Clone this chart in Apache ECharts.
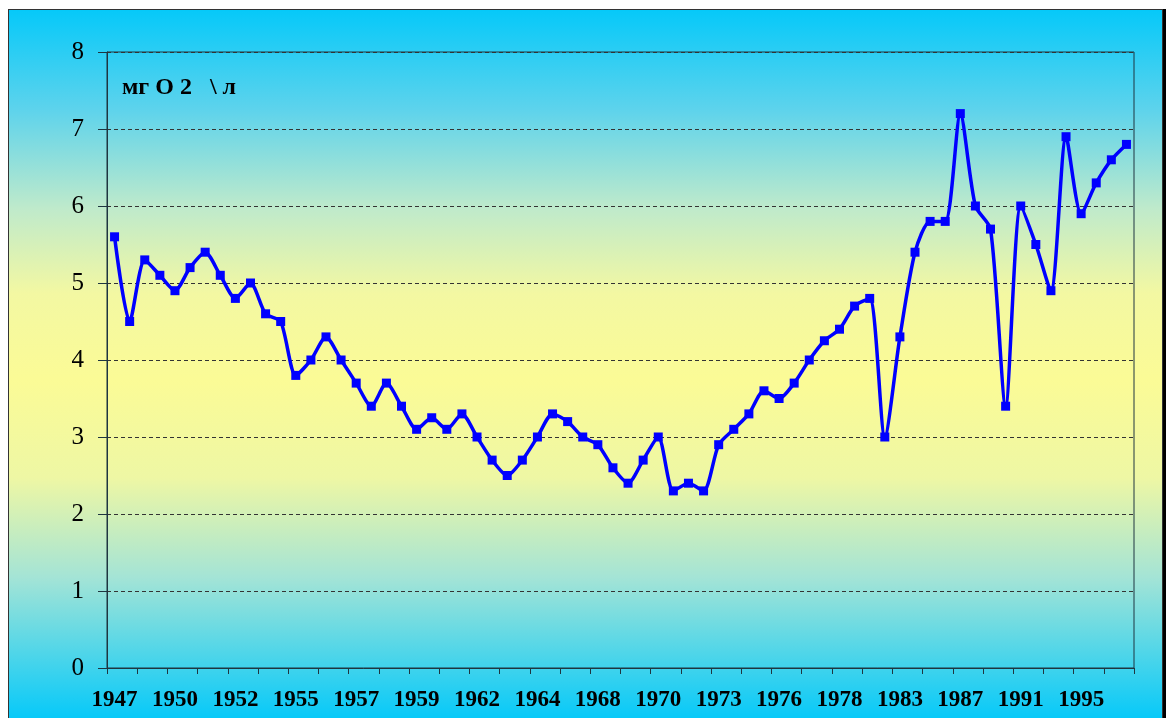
<!DOCTYPE html>
<html>
<head>
<meta charset="utf-8">
<script src="https://cdn.jsdelivr.net/npm/echarts@6/dist/echarts.min.js"></script>
<style>
  html, body { margin: 0; padding: 0; background: #fff; }
  #chart {
    position: absolute;
    left: 8px;
    top: 9px;
    width: 1153px;
    height: 709px;
    border: 1px solid #333;
    box-shadow: 3px 0 0 #000;
  }
</style>
</head>
<body>
<div id="chart"></div>
<script>
// labels shown every 4th measurement
const tickLabels = ['1947', '1950', '1952', '1955', '1957', '1959', '1962', '1964', '1968',
  '1970', '1973', '1976', '1978', '1983', '1987', '1991', '1995'];

// dissolved oxygen, mg O2 / l
const oxygen = [5.6, 4.5, 5.3, 5.1, 4.9, 5.2, 5.4, 5.1, 4.8, 5.0,
  4.6, 4.5, 3.8, 4.0, 4.3, 4.0, 3.7, 3.4, 3.7, 3.4,
  3.1, 3.25, 3.1, 3.3, 3.0, 2.7, 2.5, 2.7, 3.0, 3.3,
  3.2, 3.0, 2.9, 2.6, 2.4, 2.7, 3.0, 2.3, 2.4, 2.3,
  2.9, 3.1, 3.3, 3.6, 3.5, 3.7, 4.0, 4.25, 4.4, 4.7,
  4.8, 3.0, 4.3, 5.4, 5.8, 5.8, 7.2, 6.0, 5.7, 3.4,
  6.0, 5.5, 4.9, 6.9, 5.9, 6.3, 6.6, 6.8];

const yTicks = { min: 0, max: 8, step: 1 };

let categories = oxygen.map((v, i) => (i % 4 === 0 ? tickLabels[i / 4] : ''));

let myecharts = echarts.init(document.getElementById('chart'));
myecharts.setOption({
  animation: false,
  backgroundColor: {
    type: 'linear',
    x: 0, y: 0, x2: 0, y2: 1,
    colorStops: [
      { offset: 0, color: '#06c9f9' },
      { offset: 0.14, color: '#5dd3ec' },
      { offset: 0.28, color: '#bfeacb' },
      { offset: 0.4, color: '#f3f8a2' },
      { offset: 0.52, color: '#fbfb96' },
      { offset: 0.66, color: '#eef7a4' },
      { offset: 0.8, color: '#a4e4d6' },
      { offset: 1, color: '#06c9f9' },
    ],
  },
  grid: {
    left: 98,
    top: 42,
    right: 28,
    bottom: 51,
    show: true,
    borderColor: '#1e3540',
    borderWidth: 1,
  },
  graphic: [
    {
      type: 'text',
      left: 113,
      top: 66,
      style: {
        text: 'мг O 2   \\ л',
        font: 'bold 24px "Liberation Serif", "DejaVu Serif", serif',
        fill: '#000',
      },
    },
  ],
  xAxis: {
    type: 'category',
    data: categories,
    boundaryGap: true,
    axisLine: { lineStyle: { color: '#1e3540', width: 1 } },
    axisTick: { show: true, interval: 1, length: 6, lineStyle: { color: '#1e3540' } },
    axisLabel: {
      interval: 3,
      margin: 21,
      color: '#000',
      fontFamily: '"Liberation Serif", "DejaVu Serif", serif',
      fontWeight: 'bold',
      fontSize: 23,
    },
    splitLine: { show: false },
  },
  yAxis: {
    type: 'value',
    min: yTicks.min,
    max: yTicks.max,
    interval: yTicks.step,
    axisLine: { show: true, lineStyle: { color: '#1e3540', width: 1 } },
    axisTick: { show: true, length: 9, lineStyle: { color: '#1e3540' } },
    axisLabel: {
      margin: 23,
      color: '#000',
      fontFamily: '"Liberation Serif", "DejaVu Serif", serif',
      fontSize: 25,
    },
    splitLine: {
      show: true,
      lineStyle: { color: '#333', type: [4, 3], width: 1 },
    },
  },
  series: [
    {
      type: 'line',
      data: oxygen,
      smooth: 0.25,
      symbol: 'rect',
      symbolSize: 9,
      lineStyle: { color: '#0000ff', width: 3.5 },
      itemStyle: { color: '#0000ff' },
    },
  ],
});
</script>
</body>
</html>
